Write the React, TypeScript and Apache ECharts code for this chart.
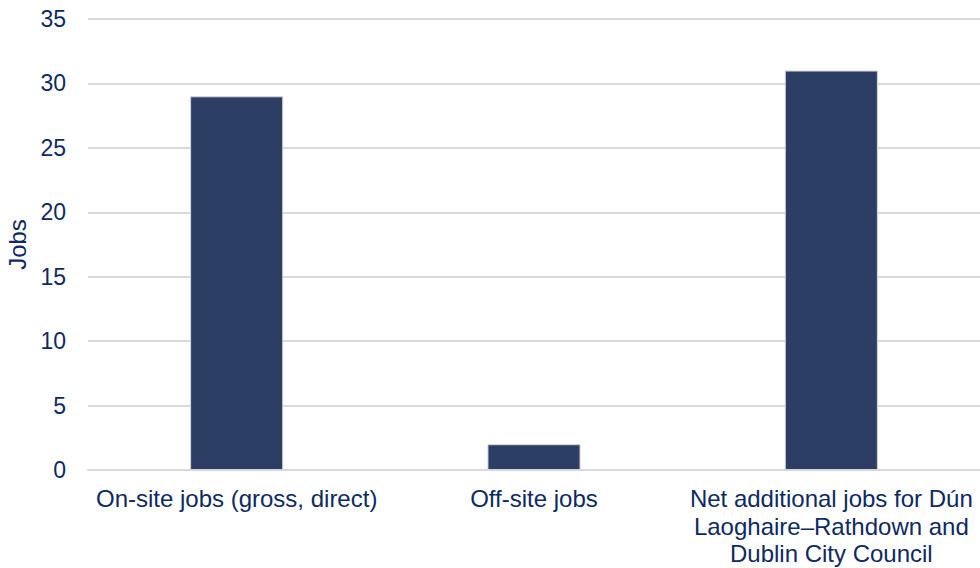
import React, { useEffect, useRef } from "react";
import * as echarts from "echarts";

const categories = [
  "On-site jobs (gross, direct)",
  "Off-site jobs",
  "Net additional jobs for Dún\nLaoghaire–Rathdown and\nDublin City Council",
];
const jobs = [29, 2, 31];
const yTicks = { min: 0, max: 35, interval: 5 };

const TEXT = "#0E2A62";
const FONT = "'Liberation Sans', Arial, sans-serif";

export default function App() {
  const ref = useRef<HTMLDivElement>(null);
  useEffect(() => {
    if (!ref.current) return;
    const chart = echarts.init(ref.current, undefined, { renderer: "svg" });
    chart.setOption({
      animation: false,
      grid: { left: 88, right: 0, top: 19, bottom: 98, outerBoundsMode: "none", containLabel: false },
      xAxis: {
        type: "category",
        data: categories,
        axisTick: { show: false },
        axisLine: { show: true, lineStyle: { color: "#d9d9d9", width: 2 } },
        axisLabel: {
          color: TEXT,
          fontFamily: FONT,
          fontSize: 24,
          lineHeight: 27.5,
          margin: 15,
          interval: 0,
          align: "center",
          hideOverlap: false,
        },
      },
      yAxis: {
        type: "value",
        min: yTicks.min,
        max: yTicks.max,
        interval: yTicks.interval,
        name: "Jobs",
        nameLocation: "middle",
        nameRotate: 90,
        nameGap: 59,
        nameTextStyle: { color: TEXT, fontFamily: FONT, fontSize: 24 },
        axisLine: { show: false },
        axisTick: { show: false },
        axisLabel: { color: TEXT, fontFamily: FONT, fontSize: 23, margin: 22 },
        splitLine: { lineStyle: { color: "#d9d9d9", width: 2 } },
      },
      series: [
        {
          type: "bar",
          data: jobs,
          barWidth: "31.3%",
          itemStyle: { color: "#2C3E63", borderColor: "#d0d4dc", borderWidth: 1 },
        },
      ],
    });
    return () => chart.dispose();
  }, []);
  return (
    <div
      ref={ref}
      style={{ position: "absolute", left: 0, top: 0, width: 980, height: 568 }}
    />
  );
}
